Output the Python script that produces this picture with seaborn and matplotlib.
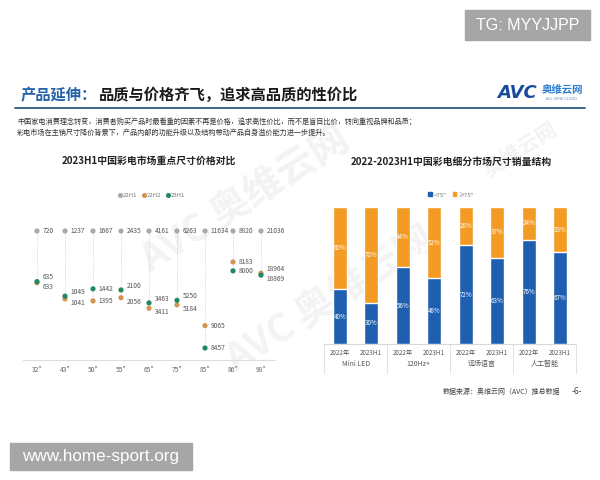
import numpy as np
import pandas as pd
import matplotlib
matplotlib.use('Agg')
import matplotlib.pyplot as plt
import matplotlib.transforms as mtransforms
from matplotlib.patches import Rectangle
from matplotlib.lines import Line2D
import seaborn as sns

# ---------------- data ----------------
sizes = ['32"', '43"', '50"', '55"', '65"', '75"', '85"', '86"', '98"']
price_22h1 = [720, 1237, 1667, 2435, 4161, 6263, 11634, 8820, 21036]
price_22h2 = [633, 1041, 1395, 2056, 3411, 5184, 9065, 8183, 18964]
price_23h1 = [635, 1049, 1442, 2100, 3463, 5250, 8457, 8000, 18869]
periods = ['22H1', '22H2', '23H1']

groups = ['Mini LED', '120Hz+', '远场语音', '人工智能']
years = ['2022年', '2023H1']
share_small = [40, 30, 56, 48, 72, 63, 76, 67]
share_large = [60, 70, 44, 52, 28, 37, 24, 33]
size_classes = ['<75"', '≥75"']

title_left = '2023H1中国彩电市场重点尺寸价格对比'
title_right = '2022-2023H1中国彩电细分市场尺寸销量结构'
header_a = '产品延伸：'
header_b = '品质与价格齐飞，追求高品质的性价比'
body_1 = '中国家电消费理念转变，消费者购买产品时最看重的因素不再是价格，追求高性价比，而不是盲目比价，转向重视品牌和品质；'
body_2 = '彩电市场在主销尺寸降价背景下，产品内部的功能升级以及结构带动产品自身溢价能力进一步提升。'
source = '数据来源：奥维云网（AVC）推总数据'

# ---------------- style ----------------
sns.set_theme(style='white')
plt.rcParams['font.family'] = ['Noto Sans CJK SC', 'DejaVu Sans']
plt.rcParams['axes.unicode_minus'] = False

W, H = 600, 480
fig = plt.figure(figsize=(6, 4.8), dpi=100)
fig.patch.set_facecolor('white')


def fx(x):
    return x / W


def fy(y):
    return 1 - y / H


c_grey, c_orange_dot, c_green = '#a9a9a9', '#d4934f', '#1f8a5d'
c_blue, c_orange = '#1e5fb0', '#f39b25'

# faint watermarks
for (x, y, s, txt) in [(245, 200, 28, 'AVC 奥维云网'), (330, 300, 28, 'AVC 奥维云网'),
                       (520, 150, 15, '奥维云网')]:
    fig.text(fx(x), fy(y), txt, fontsize=s, rotation=32, color='#f3f3f3',
             weight='bold', ha='center', va='center', zorder=-5)

# ---------------- header ----------------
ta = fig.text(fx(21), fy(95), header_a, fontsize=11, weight='bold', color='#2563a8',
              ha='left', va='center')
fig.canvas.draw()
bb = ta.get_window_extent(renderer=fig.canvas.get_renderer())
x_b = bb.x1 / (fig.dpi * fig.get_figwidth()) + 0.002
fig.text(x_b, fy(95), header_b, fontsize=11, weight='bold', color='#1a1a1a',
         ha='left', va='center')
fig.add_artist(Line2D([fx(15), fx(585)], [fy(108), fy(108)], color='#2e5a7e', lw=1.3))
fig.text(fx(17), fy(122), body_1, fontsize=5.15, color='#333333', ha='left', va='center')
fig.text(fx(17), fy(133), body_2, fontsize=5.15, color='#333333', ha='left', va='center')

# logo
fig.text(fx(497), fy(93), 'AVC', fontsize=13, weight='bold', style='italic',
         color='#1a4a9c', ha='left', va='center', family=['DejaVu Sans'])
fig.text(fx(542), fy(90), '奥维云网', fontsize=7.5, weight='bold', color='#2f7fd2',
         ha='left', va='center')
fig.text(fx(562), fy(99), 'ALL VIEW CLOUD', fontsize=2.6, color='#6a8fc0',
         ha='center', va='center', family=['DejaVu Sans'])

# ---------------- left chart ----------------
rows = []
for i, sz in enumerate(sizes):
    base = price_22h1[i]
    for per, arr in zip(periods, [price_22h1, price_22h2, price_23h1]):
        rows.append(dict(pos=i, size=sz, period=per, price=arr[i], ratio=arr[i] / base))
dfL = pd.DataFrame(rows)

axL = fig.add_axes([fx(23), fy(360), 252 / W, 138 / H])
axL.set_facecolor('none')
for i in range(len(sizes)):
    sub = dfL[dfL.pos == i]
    axL.vlines(i, sub.ratio.min(), sub.ratio.max(), colors='#c8c8c8',
               linestyles=(0, (1, 1.6)), lw=0.6, zorder=1)

sns.scatterplot(data=dfL, x='pos', y='ratio', hue='period', hue_order=periods,
                palette={'22H1': c_grey, '22H2': c_orange_dot, '23H1': c_green},
                s=14, linewidth=0, ax=axL, legend=False, zorder=3)

for i in range(len(sizes)):
    sub = dfL[dfL.pos == i].set_index('period')
    r2, r3 = sub.loc['22H2', 'ratio'], sub.loc['23H1', 'ratio']
    for per in periods:
        r = sub.loc[per, 'ratio']
        dy = 0
        if per != '22H1' and abs(r2 - r3) < 0.02:
            other = r3 if per == '22H2' else r2
            dy = 3 if r >= other else -3
        axL.annotate(f"{sub.loc[per, 'price']}", xy=(i, r), xytext=(4, dy),
                     textcoords='offset points', fontsize=4.8, color='#555555',
                     ha='left', va='center')

axL.set_xlim(-0.5, 8.5)
axL.set_ylim(0.699, 1.021)
axL.set_xticks(range(len(sizes)))
axL.set_xticklabels(sizes, fontsize=4.8, color='#666666')
axL.tick_params(axis='x', length=0, pad=4)
axL.set_yticks([])
axL.set_xlabel('')
axL.set_ylabel('')
for sp in ['left', 'right', 'top']:
    axL.spines[sp].set_visible(False)
axL.spines['bottom'].set_color('#dedede')
axL.spines['bottom'].set_linewidth(0.8)

handlesL = [Line2D([], [], marker='o', ls='', color=c, markersize=2.6)
            for c in [c_grey, c_orange_dot, c_green]]
fig.legend(handlesL, periods, loc='center', bbox_to_anchor=(fx(151), fy(195)),
           ncol=3, frameon=False, fontsize=4.3, handletextpad=0.0, columnspacing=0.6,
           handlelength=1.0, labelcolor='#777777')

fig.text(fx(149), fy(161), title_left, fontsize=7.1, weight='bold', color='#222222',
         ha='center', va='center')

# ---------------- right chart ----------------
rowsR = []
k = 0
for g in groups:
    for yv in years:
        rowsR.append(dict(key=f'{g}|{yv}', group=g, year=yv,
                          small=share_small[k], large=share_large[k],
                          total=share_small[k] + share_large[k]))
        k += 1
dfR = pd.DataFrame(rowsR)

axR = fig.add_axes([fx(324), fy(344), 252 / W, 137 / H])
axR.set_facecolor('none')
order = list(dfR.key)
sns.barplot(data=dfR, x='key', y='total', order=order, color=c_orange, saturation=1,
            width=0.43, errorbar=None, ax=axR, zorder=2)
sns.barplot(data=dfR, x='key', y='small', order=order, color=c_blue, saturation=1,
            width=0.43, errorbar=None, ax=axR, zorder=3)

for i, r in dfR.iterrows():
    axR.text(i, r.small / 2, f'{r.small}%', color='white', fontsize=4.5,
             ha='center', va='center', zorder=5)
    axR.text(i, r.small + r.large / 2, f'{r.large}%', color='white', fontsize=4.5,
             ha='center', va='center', zorder=5)

axR.set_xlim(-0.5, 7.5)
axR.set_ylim(0, 100)
axR.set_xticks(range(len(order)))
axR.set_xticklabels(list(dfR.year), fontsize=4.5, color='#555555')
axR.tick_params(axis='x', length=0, pad=3.5)
axR.set_yticks([])
axR.set_xlabel('')
axR.set_ylabel('')
for sp in ['left', 'right', 'top']:
    axR.spines[sp].set_visible(False)
axR.spines['bottom'].set_color('#d9d9d9')
axR.spines['bottom'].set_linewidth(0.8)

trans = mtransforms.blended_transform_factory(axR.transData, axR.transAxes)
n_per = len(years)
for gi, g in enumerate(groups):
    center = gi * n_per + (n_per - 1) / 2
    axR.text(center, -0.146, g, transform=trans, fontsize=5, color='#555555',
             ha='center', va='center')
for b in np.arange(-0.5, len(order), n_per):
    axR.plot([b, b], [0, -0.21], transform=trans, color='#dddddd', lw=0.6,
             clip_on=False)

handlesR = [Rectangle((0, 0), 1, 1, color=c) for c in [c_blue, c_orange]]
fig.legend(handlesR, size_classes, loc='center', bbox_to_anchor=(fx(451), fy(195)),
           ncol=2, frameon=False, fontsize=4.3, handletextpad=0.3, columnspacing=1.0,
           handlelength=0.6, handleheight=0.6, labelcolor='#777777')

fig.text(fx(451), fy(162), title_right, fontsize=7.1, weight='bold', color='#222222',
         ha='center', va='center')

# footer
fig.text(fx(443), fy(392), source, fontsize=5, color='#444444', ha='left', va='center')
fig.text(fx(577), fy(392), '-6-', fontsize=6, color='#444444', ha='center', va='center')

# overlay tag boxes
fig.add_artist(Rectangle((fx(465), fy(40)), 125 / W, 30 / H, transform=fig.transFigure,
                         color='#a6a6a6', zorder=10))
fig.text(fx(527.5), fy(25), 'TG: MYYJJPP', fontsize=11.5, color='white',
         ha='center', va='center', family=['Liberation Sans'], zorder=11)
fig.add_artist(Rectangle((fx(10), fy(470)), 182 / W, 27 / H, transform=fig.transFigure,
                         color='#a6a6a6', zorder=10))
fig.text(fx(101), fy(456), 'www.home-sport.org', fontsize=12.3, color='white',
         ha='center', va='center', family=['Liberation Sans'], zorder=11)

fig.savefig('out.png', dpi=100)
